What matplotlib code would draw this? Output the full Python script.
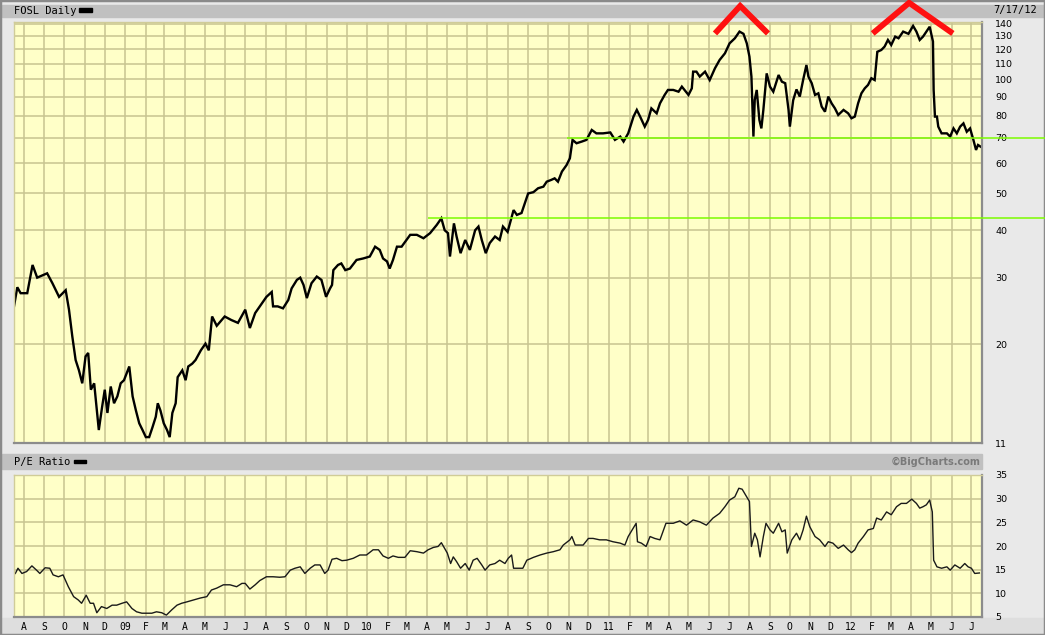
import numpy as np
import matplotlib
matplotlib.use('Agg')
import matplotlib.pyplot as plt
import matplotlib.dates as mdates
from matplotlib.patches import Rectangle
from matplotlib.ticker import FixedLocator, FuncFormatter, NullLocator, NullFormatter

# period shown: one session per point, days counted from the first date
start = np.datetime64('2008-07-17')
end = np.datetime64('2012-07-17')

# FOSL daily price
price_day = [0, 5, 10, 20, 28, 35, 50, 58, 68, 78, 83, 88, 93, 98, 103, 108, 112, 116,
             121, 126, 128, 133, 137, 141, 146, 151, 156, 161, 166, 174, 179, 184, 189,
             194, 199, 204, 209, 214, 217, 221, 226, 231, 235, 239, 244, 247, 254, 259,
             263, 269, 274, 282, 289, 294, 299, 306, 318, 328, 338, 349, 356, 364, 371,
             381, 389, 391, 398, 406, 414, 419, 427, 432, 437, 442, 449, 457, 464, 471,
             477, 480, 482, 489, 494, 500, 507, 517, 527, 537, 545, 552, 557, 563, 567,
             572, 578, 585, 598, 608, 618, 628, 638, 645, 650, 655, 658, 664, 668, 674,
             681, 688, 696, 701, 706, 712, 718, 726, 733, 738, 745, 750, 754, 759, 766,
             771, 776, 784, 791, 799, 804, 811, 816, 821, 827, 834, 839, 843, 849, 857,
             864, 872, 879, 889, 900, 907, 915, 920, 927, 935, 940, 945, 952, 957, 962,
             970, 975, 982, 987, 995, 1003, 1008, 1018, 1023, 1025, 1030, 1035, 1043,
             1050, 1058, 1065, 1073, 1080, 1088, 1095, 1101, 1106, 1110, 1113, 1116,
             1118, 1121, 1125, 1128, 1131, 1136, 1141, 1146, 1154, 1159, 1164, 1169,
             1171, 1176, 1181, 1186, 1191, 1196, 1199, 1204, 1209, 1214, 1219, 1224,
             1229, 1234, 1239, 1244, 1252, 1259, 1264, 1269, 1274, 1279, 1284, 1289,
             1294, 1299, 1303, 1309, 1314, 1319, 1324, 1330, 1335, 1342, 1350, 1357,
             1362, 1367, 1372, 1377, 1382, 1387, 1388, 1390, 1393, 1395, 1400, 1408,
             1413, 1418, 1423, 1428, 1433, 1438, 1443, 1448, 1452, 1455, 1459]
price = [25.2, 28.3, 27.3, 27.3, 32.4, 30.0, 30.8, 29.0, 26.7, 27.8, 24.7, 21.0, 18.2, 17.1,
         15.8, 18.6, 19.0, 15.2, 15.8, 12.9, 11.9, 13.7, 15.2, 13.2, 15.5, 14.0, 14.6, 15.8,
         16.1, 17.5, 14.6, 13.4, 12.4, 11.9, 11.4, 11.4, 12.1, 12.9, 14.0, 13.4, 12.4, 11.9,
         11.4, 13.2, 14.0, 16.4, 17.1, 16.1, 17.5, 17.8, 18.2, 19.3, 20.1, 19.3, 23.7, 22.4,
         23.7, 23.2, 22.8, 24.7, 22.1, 24.2, 25.2, 26.7, 27.5, 25.2, 25.2, 24.9, 26.2, 28.1,
         29.6, 30.0, 28.7, 26.5, 29.0, 30.2, 29.6, 26.7, 28.1, 28.7, 31.4, 32.4, 32.7, 31.4,
         31.7, 33.4, 33.7, 34.1, 36.2, 35.5, 33.7, 33.1, 31.7, 33.4, 36.2, 36.2, 38.9, 38.9,
         38.1, 39.3, 41.3, 43.0, 40.0, 39.3, 34.1, 41.7, 38.5, 34.8, 37.7, 35.5, 40.0, 40.9,
         37.7, 34.8, 37.0, 38.5, 37.7, 40.9, 39.6, 42.6, 45.2, 43.9, 44.4, 47.1, 50.0, 50.4,
         51.6, 52.1, 53.7, 54.3, 54.8, 53.7, 57.1, 59.4, 61.9, 69.2, 67.8, 68.5, 69.2, 73.5,
         72.0, 72.0, 72.4, 69.2, 70.6, 68.5, 72.0, 79.7, 83.0, 79.7, 75.0, 78.1, 83.8, 81.3,
         86.4, 90.9, 93.7, 93.7, 92.7, 95.6, 90.9, 94.6, 104.7, 104.7, 101.6, 104.7, 99.5,
         106.9, 112.4, 117.0, 124.3, 128.2, 133.5, 131.7, 124.3, 114.7, 101.6, 70.6, 88.2,
         93.7, 78.1, 74.2, 83.0, 103.6, 95.6, 92.7, 102.6, 98.5, 97.6, 83.0, 75.0, 88.0,
         94.0, 90.0, 99.5, 109.0, 101.6, 97.6, 90.9, 91.8, 84.7, 82.1, 90.0, 86.4, 83.8,
         80.5, 83.0, 81.3, 78.9, 79.7, 86.4, 91.8, 94.6, 96.6, 100.6, 99.5, 118.1, 119.4,
         121.9, 126.9, 123.1, 129.5, 128.2, 133.5, 131.7, 138.2, 133.5, 126.9, 129.5, 133.5,
         137.5, 125.7, 93.7, 79.7, 79.7, 75.0, 72.0, 72.0, 70.6, 74.2, 72.0, 75.0, 76.5,
         72.7, 74.2, 69.2, 65.1, 67.1, 66.4]

# P/E ratio
pe_day = [2, 6, 12, 19, 27, 34, 39, 47, 54, 59, 67, 74, 82, 90, 97, 102, 109, 115, 120, 125,
          132, 140, 148, 155, 163, 170, 178, 185, 193, 200, 208, 215, 223, 230, 238, 246,
          253, 261, 271, 281, 291, 298, 306, 316, 326, 336, 344, 349, 356, 364, 371, 381,
          391, 401, 409, 417, 424, 432, 439, 447, 454, 462, 469, 474, 480, 487, 495, 502,
          512, 522, 532, 542, 550, 557, 565, 572, 580, 590, 598, 608, 618, 625, 633, 640,
          645, 650, 654, 659, 663, 668, 674, 681, 687, 693, 699, 706, 711, 718, 726, 733,
          741, 746, 751, 754, 761, 768, 774, 784, 794, 804, 814, 824, 829, 839, 842, 847,
          852, 859, 867, 874, 884, 894, 904, 915, 922, 927, 939, 941, 947, 954, 960, 967,
          975, 984, 995, 1005, 1015, 1025, 1035, 1045, 1055, 1065, 1073, 1080, 1088, 1094,
          1099, 1104, 1110, 1113, 1118, 1122, 1126, 1131, 1135, 1141, 1146, 1154, 1159,
          1164, 1167, 1174, 1181, 1186, 1191, 1196, 1201, 1209, 1216, 1224, 1229, 1236,
          1244, 1252, 1259, 1264, 1269, 1274, 1282, 1289, 1297, 1302, 1309, 1317, 1324,
          1332, 1339, 1347, 1355, 1362, 1367, 1372, 1377, 1382, 1386, 1388, 1393, 1400,
          1408, 1413, 1420, 1428, 1435, 1440, 1445, 1450, 1457]
pe = [14.2, 15.3, 14.2, 14.6, 15.8, 14.9, 14.2, 15.4, 15.3, 13.9, 13.5, 13.9, 11.4, 9.3, 8.6,
      7.9, 9.6, 7.9, 7.9, 5.9, 7.2, 6.8, 7.5, 7.5, 7.9, 8.2, 6.8, 6.1, 5.8, 5.8, 5.8, 6.1,
      5.9, 5.4, 6.5, 7.5, 7.9, 8.2, 8.6, 9.0, 9.3, 10.7, 11.1, 11.8, 11.8, 11.4, 12.1, 12.1,
      10.9, 11.8, 12.7, 13.5, 13.5, 13.4, 13.5, 14.9, 15.3, 15.6, 14.2, 15.3, 16.0, 16.0,
      14.2, 14.9, 17.2, 17.4, 16.9, 17.0, 17.4, 18.1, 18.1, 19.2, 19.2, 17.9, 17.4, 17.9,
      17.6, 17.6, 19.0, 18.8, 18.5, 19.2, 19.7, 19.9, 20.7, 19.5, 18.5, 16.3, 17.7, 16.7,
      15.3, 16.3, 14.9, 17.0, 17.4, 16.0, 14.9, 16.0, 16.3, 17.0, 16.3, 17.4, 18.1, 15.3,
      15.3, 15.3, 17.0, 17.6, 18.1, 18.5, 18.8, 19.2, 20.2, 21.3, 22.0, 20.2, 20.2, 20.2,
      21.6, 21.6, 21.3, 21.3, 20.9, 20.6, 20.2, 22.0, 24.8, 20.9, 20.6, 19.9, 22.0, 21.6,
      21.3, 24.8, 24.8, 25.3, 24.4, 25.5, 25.1, 24.4, 25.9, 26.9, 28.3, 29.7, 30.4, 32.2,
      32.0, 30.8, 29.4, 19.9, 22.7, 21.3, 17.7, 22.0, 24.8, 23.4, 22.7, 24.8, 23.0, 23.4,
      18.5, 21.3, 22.7, 21.3, 23.4, 26.3, 24.1, 22.0, 21.3, 19.9, 20.9, 20.6, 19.5, 20.2,
      19.2, 18.6, 19.2, 20.6, 22.0, 23.4, 23.7, 25.9, 25.5, 27.2, 26.6, 28.3, 29.0, 29.0,
      29.9, 29.0, 28.0, 28.3, 28.7, 29.7, 27.2, 17.0, 15.6, 15.3, 15.6, 14.9, 16.0, 15.3,
      16.3, 15.6, 15.3, 14.2, 14.3]

price_ticks = [11, 20, 30, 40, 50, 60, 70, 80, 90, 100, 110, 120, 130, 140]
pe_ticks = [5, 10, 15, 20, 25, 30, 35]

# green support lines: level and first day
support_level = [70, 43.1]
support_from = [835, 625]

# red "double top" marks
top1_day = [1058, 1096, 1138]
top1_price = [132, 156, 132]
top2_day = [1296, 1351, 1417]
top2_price = [132, 159, 132]


def to_dates(days):
    return start + np.array(days, dtype='timedelta64[D]')


W, H = 1045, 635
BG = '#e9e9e9'
PLOT = '#ffffc8'
GRID = '#c8c490'
MONO = 'DejaVu Sans Mono'


def px(x, y):
    return x / W, 1 - y / H


def month_label(x, pos):
    d = mdates.num2date(x)
    if d.month == 1:
        return d.strftime('%y')
    return d.strftime('%b')[0]


fig = plt.figure(figsize=(W / 100, H / 100), dpi=100, facecolor=BG)

# header bars and frame, kept behind the axes
def band(x, y, w, h, color):
    fig.patches.append(Rectangle(px(x, y + h), w / W, h / H, transform=fig.transFigure,
                                 color=color, zorder=-5))

band(2, 5, W - 2, 12, '#c0c0c0')
band(2, 454, 980, 15, '#c0c0c0')
band(2, 618, W - 2, 15, '#dedede')
band(79, 8.5, 13, 3.5, 'black')
band(74, 459.5, 12, 3.5, 'black')
fig.patches.append(Rectangle((0, 0), 1, 1, transform=fig.transFigure, fill=False,
                             edgecolor='#8a8a8a', lw=2.5, zorder=-4))

fig.text(*px(14, 11), 'FOSL Daily', family=MONO, fontsize=7.5, va='center')
fig.text(*px(993, 10), '7/17/12', family=MONO, fontsize=7.5, va='center')
fig.text(*px(14, 462), 'P/E Ratio', family=MONO, fontsize=7.5, va='center')
fig.text(*px(981, 461.5), '\u00a9BigCharts.com', fontsize=7, fontweight='bold',
         color='#7a7a7a', ha='right', va='center')

ax = fig.add_axes([14 / W, (H - 443) / H, 968 / W, 421 / H])
ax2 = fig.add_axes([14 / W, (H - 617) / H, 968 / W, 142 / H])

for a in (ax, ax2):
    a.set_facecolor(PLOT)
    a.set_axisbelow(True)
    a.set_xlim(start, end)
    a.xaxis.set_major_locator(mdates.MonthLocator())
    a.xaxis.set_minor_locator(NullLocator())
    a.grid(True, color=GRID, lw=1.1)
    a.yaxis.tick_right()
    a.tick_params(axis='both', length=0)
    a.tick_params(axis='y', pad=9.5, labelsize=6.8)
    for side in ('left', 'top'):
        a.spines[side].set_color('#d0cc98')
        a.spines[side].set_linewidth(1)
    for side in ('right', 'bottom'):
        a.spines[side].set_color('#8c8c8c')
        a.spines[side].set_linewidth(1.6)

# price panel
ax.set_yscale('log')
ax.set_ylim(11, 141.5)
ax.yaxis.set_major_locator(FixedLocator(price_ticks))
ax.yaxis.set_minor_locator(NullLocator())
ax.yaxis.set_major_formatter(FuncFormatter(lambda v, p: '%d' % v))
ax.yaxis.set_minor_formatter(NullFormatter())
ax.xaxis.set_major_formatter(NullFormatter())
ax.plot(to_dates(price_day), price, color='black', lw=1.7, solid_joinstyle='miter')

far_right = start + np.timedelta64(1556, 'D')
for lvl, d0 in zip(support_level, support_from):
    ax.hlines(lvl, start + np.timedelta64(d0, 'D'), far_right, color='#7cfc00',
              lw=1.1, clip_on=False, zorder=4)

for dd, pp in ((top1_day, top1_price), (top2_day, top2_price)):
    ax.plot(to_dates(dd), pp, color='#ff1010', lw=4.2, clip_on=False,
            solid_capstyle='butt', solid_joinstyle='miter', zorder=6)

# P/E panel
ax2.set_ylim(5, 35)
ax2.yaxis.set_major_locator(FixedLocator(pe_ticks))
ax2.xaxis.set_major_formatter(FuncFormatter(month_label))
ax2.tick_params(axis='x', pad=3.5, labelsize=7)
for lab in ax2.get_xticklabels():
    lab.set_family(MONO)
ax2.plot(to_dates(pe_day), pe, color='#1a1a1a', lw=1.0)

fig.savefig('out.png', dpi=100, facecolor=BG)
